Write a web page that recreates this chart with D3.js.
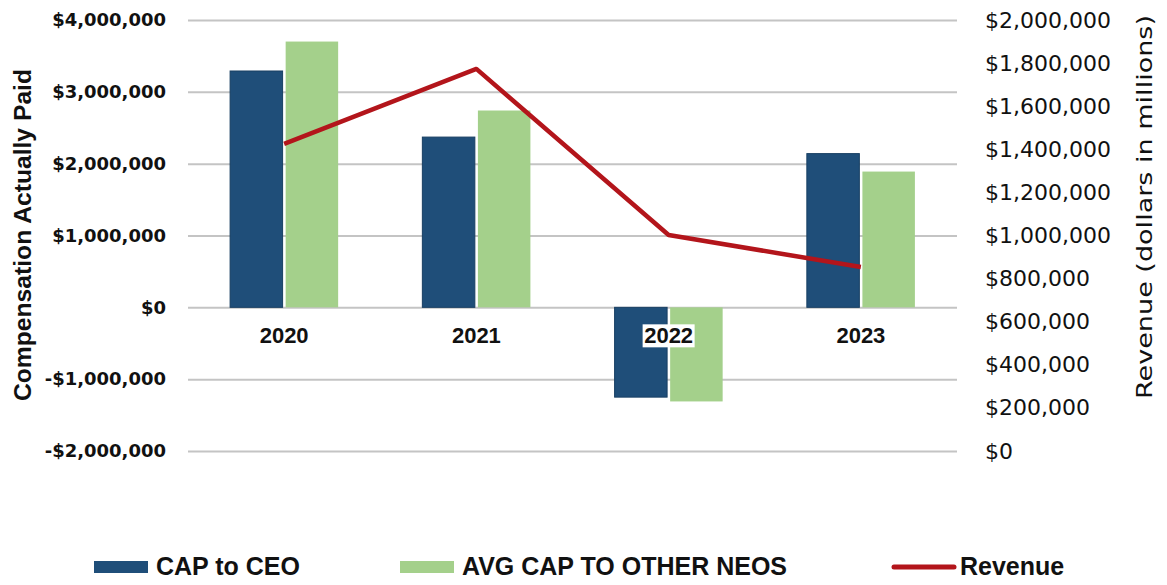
<!DOCTYPE html>
<html>
<head>
<meta charset="utf-8">
<script src="https://cdn.jsdelivr.net/npm/d3@7"></script>
<style>
  body { margin: 0; background: #fff; }
  #chart { width: 1167px; height: 585px; }
  .grid line { stroke: #c4c4c4; stroke-width: 2; }
  .grid .domain { display: none; }
</style>
</head>
<body>
<div id="chart"></div>
<script>

// values
const years = ["2020", "2021", "2022", "2023"];
const capCEO = [3290000, 2370000, -1250000, 2140000];
const capNEO = [3700000, 2740000, -1310000, 1890000];
const revenue = [1425000, 1773000, 1002000, 854000];

const leftTicks = [-2000000, -1000000, 0, 1000000, 2000000, 3000000, 4000000];
const rightTicks = [0, 200000, 400000, 600000, 800000, 1000000, 1200000, 1400000, 1600000, 1800000, 2000000];

const seriesNames = ["CAP to CEO", "AVG CAP TO OTHER NEOS", "Revenue"];
const colors = { ceo: "#1f4e79", neo: "#a4d08b", rev: "#b3151b" };

//1. SVG
const width = 1167;
const height = 585;

const svg = d3.select("#chart")
    .append("svg")
    .attr("width", width)
    .attr("height", height);

const margin = { top: 20, left: 188, right: 210, bottom: 134 };

//2. SCALES
const x0 = d3.scaleBand()
    .domain(years)
    .range([margin.left, width - margin.right])
    .paddingInner(0.438)
    .paddingOuter(0.219);

const x1 = d3.scaleBand()
    .domain(["ceo", "neo"])
    .range([0, x0.bandwidth()])
    .paddingInner(0.055);

const yLeft = d3.scaleLinear()
    .domain([-2000000, 4000000])
    .range([height - margin.bottom, margin.top]);

const yRight = d3.scaleLinear()
    .domain([0, 2000000])
    .range([height - margin.bottom, margin.top]);

const fmt = d3.format(",");
const money = v => (v < 0 ? "-$" : "$") + fmt(Math.abs(v));

//3. GRIDLINES + AXES
svg.append("g")
    .attr("class", "grid")
    .attr("transform", `translate(${margin.left},0)`)
    .call(d3.axisLeft(yLeft).tickValues(leftTicks)
        .tickSize(-(width - margin.left - margin.right)).tickFormat(""));

const leftAxis = svg.append("g")
    .attr("transform", `translate(${margin.left - 22},0)`)
    .call(d3.axisLeft(yLeft).tickValues(leftTicks).tickSize(0).tickPadding(0).tickFormat(money));
leftAxis.select(".domain").remove();
leftAxis.selectAll("text")
    .attr("font-family", "DejaVu Sans")
    .attr("font-weight", "bold")
    .attr("font-size", "18px")
    .attr("fill", "#111");

const rightAxis = svg.append("g")
    .attr("transform", `translate(${width - margin.right + 28},0)`)
    .call(d3.axisRight(yRight).tickValues(rightTicks).tickSize(0).tickPadding(0).tickFormat(d => "$" + fmt(d)));
rightAxis.select(".domain").remove();
rightAxis.selectAll("text")
    .attr("font-family", "DejaVu Sans")
    .attr("font-size", "22px")
    .attr("fill", "#111");

//4. BARS
const rows = years.map((y, i) => ({ year: y, ceo: capCEO[i], neo: capNEO[i] }));

const groups = svg.selectAll("g.year")
    .data(rows)
    .enter()
    .append("g")
    .attr("class", "year")
    .attr("transform", d => `translate(${x0(d.year)},0)`);

groups.selectAll("rect")
    .data(d => ["ceo", "neo"].map(k => ({ key: k, value: d[k] })))
    .enter()
    .append("rect")
        .attr("x", d => x1(d.key))
        .attr("y", d => yLeft(Math.max(0, d.value)))
        .attr("width", x1.bandwidth())
        .attr("height", d => Math.abs(yLeft(d.value) - yLeft(0)))
        .attr("fill", d => colors[d.key])
        .attr("stroke", d => d.key === "ceo" ? "#183f63" : "none")
        .attr("stroke-width", 1);

//5. X LABELS (2022 sits on a white box over the bars)
const xLabels = svg.selectAll("g.xlab")
    .data(years)
    .enter()
    .append("g")
    .attr("class", "xlab")
    .attr("transform", d => `translate(${x0(d) + x0.bandwidth() / 2},${yLeft(0) + 36})`);

xLabels.filter((d, i) => capCEO[i] < 0)
    .append("rect")
    .attr("x", -26)
    .attr("y", -19)
    .attr("width", 52)
    .attr("height", 23)
    .attr("fill", "#fff");

xLabels.append("text")
    .attr("text-anchor", "middle")
    .attr("font-family", "Liberation Sans, Arial, sans-serif")
    .attr("font-weight", "bold")
    .attr("font-size", "22px")
    .attr("fill", "#111")
    .text(d => d);

//6. REVENUE LINE
const line = d3.line()
    .x((d, i) => x0(years[i]) + x0.bandwidth() / 2)
    .y(d => yRight(d));

svg.append("path")
    .datum(revenue)
    .attr("d", line)
    .attr("fill", "none")
    .attr("stroke", colors.rev)
    .attr("stroke-width", 4.5)
    .attr("stroke-linejoin", "round");

//7. AXIS TITLES
svg.append("text")
    .attr("transform", "rotate(-90)")
    .attr("x", -235)
    .attr("y", 31)
    .attr("text-anchor", "middle")
    .attr("font-family", "Liberation Sans, Arial, sans-serif")
    .attr("font-weight", "bold")
    .attr("font-size", "23px")
    .attr("textLength", 332)
    .attr("lengthAdjust", "spacingAndGlyphs")
    .attr("fill", "#111")
    .text("Compensation Actually Paid");

svg.append("text")
    .attr("transform", "rotate(-90)")
    .attr("x", -207)
    .attr("y", 1152)
    .attr("text-anchor", "middle")
    .attr("font-family", "DejaVu Sans, sans-serif")
    .attr("font-size", "22px")
    .attr("textLength", 384)
    .attr("lengthAdjust", "spacingAndGlyphs")
    .attr("fill", "#111")
    .text("Revenue (dollars in millions)");

//8. LEGEND
const legendX = [94, 400, 894];
const legend = svg.selectAll("g.legend")
    .data(seriesNames)
    .enter()
    .append("g")
    .attr("class", "legend")
    .attr("transform", (d, i) => `translate(${legendX[i]},567)`);

legend.filter((d, i) => i < 2)
    .append("rect")
    .attr("x", 0)
    .attr("y", -6)
    .attr("width", 54)
    .attr("height", 12)
    .attr("fill", (d, i) => i === 0 ? colors.ceo : colors.neo);

legend.filter((d, i) => i === 2)
    .append("line")
    .attr("x1", 0)
    .attr("x2", 60)
    .attr("stroke", colors.rev)
    .attr("stroke-width", 5)
    .attr("stroke-linecap", "round");

legend.append("text")
    .attr("x", (d, i) => i === 2 ? 66 : 62)
    .attr("y", 8)
    .attr("font-family", "Liberation Sans, Arial, sans-serif")
    .attr("font-weight", "bold")
    .attr("font-size", "25px")
    .attr("fill", "#111")
    .text(d => d);

</script>
</body>
</html>
